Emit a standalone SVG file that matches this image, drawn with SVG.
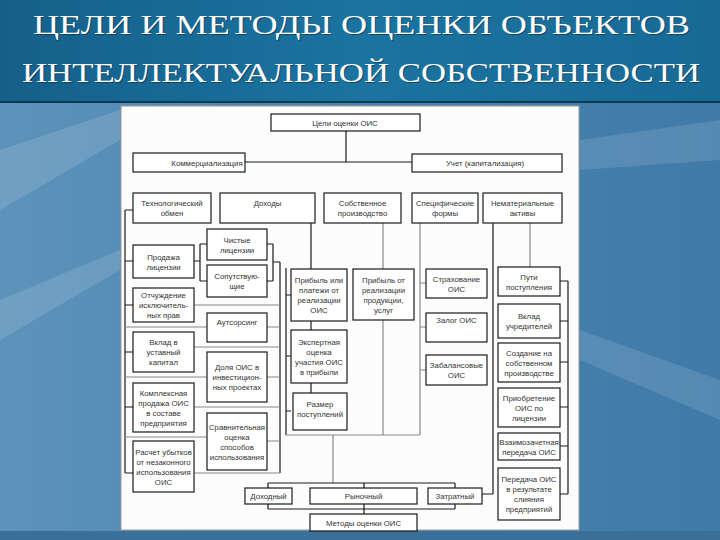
<svg xmlns="http://www.w3.org/2000/svg" width="720" height="540" viewBox="0 0 720 540">
<defs>
<linearGradient id="bg" x1="0" y1="0" x2="1" y2="0">
<stop offset="0" stop-color="#5d93ba"/>
<stop offset="0.5" stop-color="#4b84b0"/>
<stop offset="1" stop-color="#3f7aa8"/>
</linearGradient>
<linearGradient id="band" x1="0" y1="0" x2="1" y2="0">
<stop offset="0" stop-color="#15608a"/>
<stop offset="0.5" stop-color="#1b73a0"/>
<stop offset="1" stop-color="#186a95"/>
</linearGradient>
<style>
.b{fill:#fff;stroke:#1a1a1a;stroke-width:1.2}
.t{font-family:"Liberation Sans",Arial,sans-serif;font-size:7.8px;fill:#333;text-anchor:middle}
.c{fill:none;stroke:#1a1a1a;stroke-width:1.2}
.g{fill:none;stroke:#888;stroke-width:1.2}
.h{font-family:"Liberation Serif","Times New Roman",serif;font-size:27px;fill:#fff}
.hs{font-family:"Liberation Serif","Times New Roman",serif;font-size:27px;fill:#0a2a40;opacity:0.6}
</style>
</defs>
<rect x="0" y="0" width="720" height="540" fill="url(#bg)"/>
<g fill="#ffffff" opacity="0.12">
<polygon points="0,150 120,110 120,140 0,210"/>
<polygon points="0,300 120,250 120,270 0,340"/>
<polygon points="580,140 720,120 720,160 580,170"/>
<polygon points="580,330 720,380 720,420 580,360"/>
</g>
<rect x="0" y="0" width="720" height="102" fill="url(#band)"/>
<line x1="0" y1="102" x2="720" y2="102" stroke="#0c3a55" stroke-width="2"/>
<rect x="0" y="531" width="720" height="9" fill="#3a6f98"/>
<text class="hs" x="34" y="35" textLength="657" lengthAdjust="spacingAndGlyphs">ЦЕЛИ И МЕТОДЫ ОЦЕНКИ ОБЪЕКТОВ</text>
<text class="h" x="33" y="34" textLength="657" lengthAdjust="spacingAndGlyphs">ЦЕЛИ И МЕТОДЫ ОЦЕНКИ ОБЪЕКТОВ</text>
<text class="hs" x="23" y="83" textLength="678" lengthAdjust="spacingAndGlyphs">ИНТЕЛЛЕКТУАЛЬНОЙ СОБСТВЕННОСТИ</text>
<text class="h" x="22" y="82" textLength="678" lengthAdjust="spacingAndGlyphs">ИНТЕЛЛЕКТУАЛЬНОЙ СОБСТВЕННОСТИ</text>
<rect x="121" y="106" width="458" height="424" fill="#fcfcfc" stroke="#9a9a9a" stroke-width="1"/>

<g id="connectors">
<path class="c" d="M346,131V162M245,162H412"/>
<path class="c" d="M125,210H133M125,210V473M125,261H133M125,305H133M125,352H133M125,407H133M125,473H133"/>
<path class="g" d="M125,327H207M125,377H207M125,437H207"/>
<path class="c" d="M194,261H200M200,244V281M200,244H207M200,281H207"/>
<path class="c" d="M267,244H273M267,281H273M273,244V281M273,262H280M280,262V473"/>
<path class="g" d="M194,305H280M194,347H280M194,407H280M194,473H280M267,327H280M267,377H280M267,441H280"/>
<path class="c" d="M286,268V435M286,295H291M286,356H291M286,411H291"/>
<path class="c" d="M311,223V269M311,321V330M311,383V393"/>
<path class="g" d="M383,223V269M383,320V435M286,435H420"/>
<path class="g" d="M420,223V435M420,283H426M420,327H426M420,370H426"/>
<path class="g" d="M333,435V483"/>
<path class="c" d="M268,483H455M268,483V488M364,483V488M455,483V488M268,504V509M455,504V509M268,509H455M364,504V514"/>
<path class="c" d="M493,223V494M482,494H493"/>
<path class="g" d="M530,223V267"/>
<path class="c" d="M568,281V494M560,281H568M560,321H568M560,362H568M560,407H568M560,446H568M560,494H568"/>
</g>

<g id="goal"><rect class="b" x="271" y="114" width="149" height="17"/><text class="t" x="345" y="125.5">Цели оценки ОИС</text></g>
<g id="comm"><rect class="b" x="133" y="153" width="112" height="19"/><text class="t" x="207" y="165.5">Коммерциализация</text></g>
<g id="acc"><rect class="b" x="412" y="154" width="150" height="18"/><text class="t" x="485" y="166">Учет (капитализация)</text></g>

<g id="tech"><rect class="b" x="133" y="193" width="78" height="30"/><text class="t" x="172" y="206">Технологический<tspan x="172" dy="10">обмен</tspan></text></g>
<g id="income"><rect class="b" x="220" y="193" width="95" height="30"/><text class="t" x="267.5" y="206">Доходы</text></g>
<g id="own"><rect class="b" x="324" y="193" width="77" height="30"/><text class="t" x="362.5" y="206">Собственное<tspan x="362.5" dy="10">производство</tspan></text></g>
<g id="spec"><rect class="b" x="412" y="193" width="66" height="30"/><text class="t" x="445" y="206">Специфические<tspan x="445" dy="10">формы</tspan></text></g>
<g id="intang"><rect class="b" x="483" y="193" width="79" height="30"/><text class="t" x="522.5" y="206">Нематериальные<tspan x="522.5" dy="10">активы</tspan></text></g>

<g id="sale"><rect class="b" x="133" y="245" width="61" height="33"/><text class="t" x="163.5" y="259.5">Продажа<tspan x="163.5" dy="10">лицензии</tspan></text></g>
<g id="alien"><rect class="b" x="133" y="288" width="61" height="34"/><text class="t" x="163.5" y="298">Отчуждение<tspan x="163.5" dy="10">исключитель-</tspan><tspan x="163.5" dy="10">ных прав</tspan></text></g>
<g id="contrib"><rect class="b" x="133" y="332" width="61" height="40"/><text class="t" x="163.5" y="345">Вклад в<tspan x="163.5" dy="10">уставный</tspan><tspan x="163.5" dy="10">капитал</tspan></text></g>
<g id="complex"><rect class="b" x="133" y="383" width="61" height="49"/><text class="t" x="163.5" y="395.5">Комплексная<tspan x="163.5" dy="10">продажа ОИС</tspan><tspan x="163.5" dy="10">в составе</tspan><tspan x="163.5" dy="10">предприятия</tspan></text></g>
<g id="loss"><rect class="b" x="133" y="441" width="61" height="51"/><text class="t" x="163.5" y="454.5">Расчет убытков<tspan x="163.5" dy="10">от незаконного</tspan><tspan x="163.5" dy="10">использования</tspan><tspan x="163.5" dy="10">ОИС</tspan></text></g>

<g id="pure"><rect class="b" x="207" y="229" width="60" height="31"/><text class="t" x="237" y="242.5">Чистые<tspan x="237" dy="10">лицензии</tspan></text></g>
<g id="accomp"><rect class="b" x="207" y="265" width="60" height="32"/><text class="t" x="237" y="279">Сопутствую-<tspan x="237" dy="10">щие</tspan></text></g>
<g id="outs"><rect class="b" x="207" y="313" width="60" height="29"/><text class="t" x="237" y="325">Аутсорсинг</text></g>
<g id="share"><rect class="b" x="207" y="352" width="60" height="50"/><text class="t" x="237" y="370">Доля ОИС в<tspan x="237" dy="10">инвестицион-</tspan><tspan x="237" dy="10">ных проектах</tspan></text></g>
<g id="compare"><rect class="b" x="207" y="413" width="60" height="57"/><text class="t" x="237" y="429.5">Сравнительная<tspan x="237" dy="10">оценка</tspan><tspan x="237" dy="10">способов</tspan><tspan x="237" dy="10">использования</tspan></text></g>

<g id="profit1"><rect class="b" x="291" y="269" width="56" height="52"/><text class="t" x="319" y="283">Прибыль или<tspan x="319" dy="10">платежи от</tspan><tspan x="319" dy="10">реализации</tspan><tspan x="319" dy="10">ОИС</tspan></text></g>
<g id="expert"><rect class="b" x="291" y="330" width="56" height="53"/><text class="t" x="319" y="344.5">Экспертная<tspan x="319" dy="10">оценка</tspan><tspan x="319" dy="10">участия ОИС</tspan><tspan x="319" dy="10">в прибыли</tspan></text></g>
<g id="size"><rect class="b" x="293" y="393" width="54" height="37"/><text class="t" x="320" y="407">Размер<tspan x="320" dy="10">поступлений</tspan></text></g>
<g id="profit2"><rect class="b" x="353" y="269" width="61" height="51"/><text class="t" x="383.5" y="282.5">Прибыль от<tspan x="383.5" dy="10">реализации</tspan><tspan x="383.5" dy="10">продукции,</tspan><tspan x="383.5" dy="10">услуг</tspan></text></g>

<g id="insur"><rect class="b" x="426" y="269" width="61" height="29"/><text class="t" x="456.5" y="281.5">Страхование<tspan x="456.5" dy="10">ОИС</tspan></text></g>
<g id="pledge"><rect class="b" x="426" y="313" width="61" height="29"/><text class="t" x="456.5" y="323">Залог ОИС</text></g>
<g id="offbal"><rect class="b" x="426" y="355" width="61" height="30"/><text class="t" x="456.5" y="368">Забалансовые<tspan x="456.5" dy="10">ОИС</tspan></text></g>

<g id="ways"><rect class="b" x="498" y="267" width="62" height="29"/><text class="t" x="529" y="279.5">Пути<tspan x="529" dy="10">поступления</tspan></text></g>
<g id="found"><rect class="b" x="498" y="304" width="62" height="34"/><text class="t" x="529" y="319">Вклад<tspan x="529" dy="10">учредителей</tspan></text></g>
<g id="create"><rect class="b" x="498" y="343" width="62" height="39"/><text class="t" x="529" y="355.5">Создание на<tspan x="529" dy="10">собственном</tspan><tspan x="529" dy="10">производстве</tspan></text></g>
<g id="lic"><rect class="b" x="498" y="388" width="62" height="39"/><text class="t" x="529" y="400.5">Приобретение<tspan x="529" dy="10">ОИС по</tspan><tspan x="529" dy="10">лицензии</tspan></text></g>
<g id="mutual"><rect class="b" x="498" y="433" width="62" height="27"/><text class="t" x="529" y="444.5">Взаимозачетная<tspan x="529" dy="10">передача ОИС</tspan></text></g>
<g id="merge"><rect class="b" x="498" y="468" width="62" height="52"/><text class="t" x="529" y="482">Передача ОИС<tspan x="529" dy="10">в результате</tspan><tspan x="529" dy="10">слияния</tspan><tspan x="529" dy="10">предприятий</tspan></text></g>

<g id="incm"><rect class="b" x="245" y="488" width="47" height="16"/><text class="t" x="268.5" y="499">Доходный</text></g>
<g id="mkt"><rect class="b" x="310" y="488" width="107" height="16"/><text class="t" x="363.5" y="499">Рыночный</text></g>
<g id="cost"><rect class="b" x="428" y="488" width="54" height="16"/><text class="t" x="455" y="499">Затратный</text></g>
<g id="methods"><rect class="b" x="310" y="514" width="107" height="17"/><text class="t" x="363.5" y="525.5">Методы оценки ОИС</text></g>
</svg>
